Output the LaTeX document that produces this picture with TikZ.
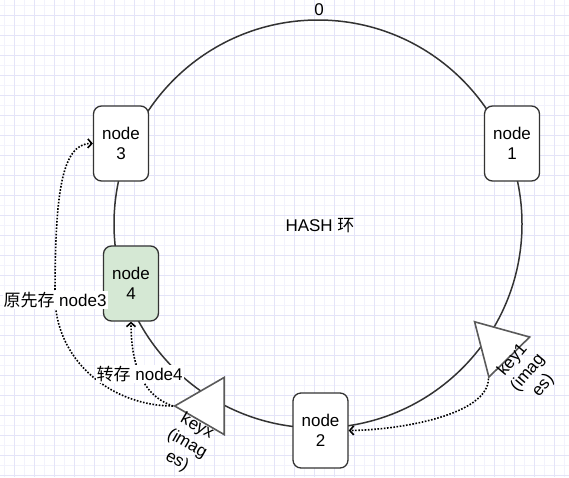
\documentclass[tikz,border=0pt]{standalone}
\usepackage{fontspec}
\setmainfont{Liberation Sans}
\newfontfamily\cjk{Noto Sans CJK SC}
\usetikzlibrary{arrows.meta,shapes.geometric}
\definecolor{gridlight}{HTML}{F2F2FC}
\definecolor{griddark}{HTML}{E4E4F8}
\definecolor{edgegray}{HTML}{333333}
\definecolor{keygray}{HTML}{5A5A5A}
\definecolor{newgreen}{HTML}{D5E8D4}

\begin{document}
\begin{tikzpicture}[x=1pt,y=-1pt,font=\fontsize{17}{20}\selectfont]

  \tikzstyle{ringNode} = [draw=edgegray, line width=1.3pt, fill=white, rounded corners=8pt, minimum width=55pt, minimum height=75pt, align=center, inner sep=0pt];
  \tikzstyle{keyNode} = [draw=keygray, line width=1.6pt, fill=white, regular polygon, regular polygon sides=3, minimum size=66pt, inner sep=0pt];
  \tikzstyle{moveLine} = [line width=1.6pt, dash pattern=on 1.6pt off 1.6pt, -{Straight Barb[length=4pt,width=9pt]}];
  \tikzstyle{moveLabel} = [fill=white, inner sep=1pt];

  \useasboundingbox (0,0) rectangle (569,477);
  \fill[white] (0,0) rectangle (569,477);

  % grid
  \foreach \x in {4.7,14.7,...,569} \draw[gridlight, line width=0.8pt] (\x,0) -- (\x,477);
  \foreach \y in {5.3,15.3,...,477} \draw[gridlight, line width=0.8pt] (0,\y) -- (569,\y);
  \foreach \x in {14.7,34.7,...,569} \draw[griddark, line width=0.8pt] (\x,0) -- (\x,477);
  \foreach \y in {15.3,35.3,...,477} \draw[griddark, line width=0.8pt] (0,\y) -- (569,\y);

  % ring
  \coordinate (ctr) at (318,224);
  \draw[edgegray, line width=1.5pt] (ctr) circle (204pt);
  \node (zero) at (319,10) {0};
  \node (hash) at (320,226) {HASH {\cjk 环}};

  \node[ringNode] (n3) at (121,143.5) {node\\3};
  \node[ringNode] (n1) at (512,143.5) {node\\1};
  \node[ringNode, fill=newgreen] (n4) at (131,283.5) {node\\4};
  \node[ringNode] (n2) at (320.5,430.5) {node\\2};

  % keys
  \node[keyNode, rotate=90] (keyx) at (207.7,406) {};
  \node[keyNode, rotate=44.5] (key1) at (497.7,345.3) {};
  \node[rotate=-30, align=center] (keyxtxt) at (187,444) {keyx\\(imag\\es)};
  \node[rotate=50, align=center] (key1txt) at (528,373) {key1\\(imag\\es)};

  \draw[moveLine] (key1.corner 2) .. controls (488,415) and (400,430) .. (n2.east);
  \draw[moveLine] (keyx.corner 1) .. controls (115,406) and (58,365) .. (55,300)
    node[moveLabel] (oldtxt) {{\cjk 原先存} node3}
    .. controls (55,200) and (60,143) .. (n3.west);
  \draw[moveLine] (keyx.corner 1) .. controls (140,395) and (131,360) .. (n4.south)
    node[moveLabel, pos=0.5] (newtxt) {{\cjk 转存} node4};
\end{tikzpicture}
\end{document}
